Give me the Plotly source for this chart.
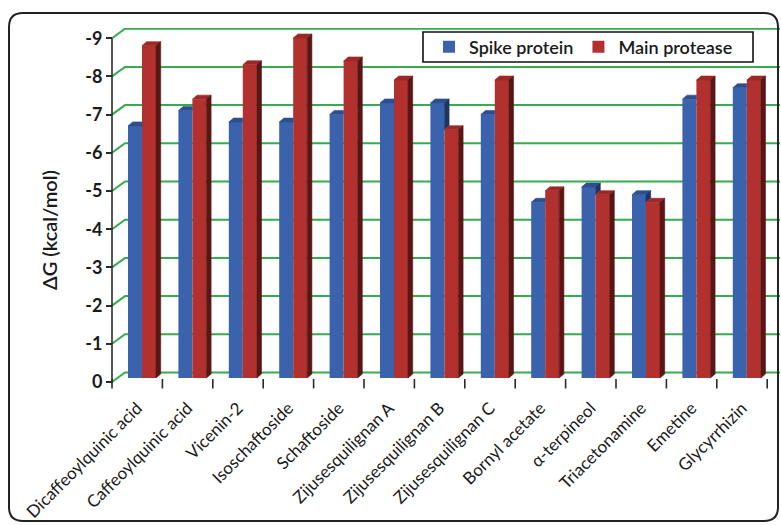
import plotly.graph_objects as go

# ---- data -------------------------------------------------------------
compounds = [
    "Dicaffeoylquinic acid", "Caffeoylquinic acid", "Vicenin-2", "Isoschaftoside",
    "Schaftoside", "Zijusesquilignan A", "Zijusesquilignan B", "Zijusesquilignan C",
    "Bornyl acetate", "α-terpineol", "Triacetonamine", "Emetine", "Glycyrrhizin",
]
spike_protein = [-6.6, -7.0, -6.7, -6.7, -6.9, -7.2, -7.2, -6.9, -4.6, -5.0, -4.8, -7.3, -7.6]
main_protease = [-8.7, -7.3, -8.2, -8.9, -8.3, -7.8, -6.5, -7.8, -4.9, -4.8, -4.6, -7.8, -7.8]
y_ticks = [0, -1, -2, -3, -4, -5, -6, -7, -8, -9]
y_ticktext = ["0", "-1", "-2", "-3", "-4", "-5", "-6", "-7", "-8", "-9"]

# ---- geometry (pixels) ------------------------------------------------
W, H = 781, 525
L, R, T, B = 104, 780, 28, 394          # plot area
X0_PX, CAT_PX = 112, 50.4               # front axis position, px per category
Y0_PX, UNIT_PX = 382, 38.2              # front zero line, px per kcal/mol

x_range = [(L - X0_PX) / CAT_PX - 0.5, (R - X0_PX) / CAT_PX - 0.5]
y_range = [(B - Y0_PX) / UNIT_PX, (T - Y0_PX) / UNIT_PX]   # reversed: 0 at bottom

WALL_DX, WALL_DY = 13 / CAT_PX, -9.5 / UNIT_PX   # back wall offset
FLOOR = -4 / UNIT_PX                              # bar bottom (mid depth)
BAR_W = 14 / CAT_PX
BLUE_OFF = -9.2 / CAT_PX
RED_OFF = BLUE_OFF + BAR_W
DX, DY = 4.7 / CAT_PX, -4 / UNIT_PX               # bar depth


def paper_x(px):
    return (px - L) / (R - L)


def paper_y(py):
    return (B - py) / (B - T)


FONT = "Lato"
TEXT = "#1a1a1a"
GREEN = "#36ab4f"
AXIS = "#2b2b2b"
BLUE, BLUE_TOP, BLUE_SIDE = "#3b63ad", "#2d4f8f", "#1e3464"
RED, RED_TOP, RED_SIDE = "#b2302e", "#9c2927", "#5a1614"

fig = go.Figure()

# ---- back wall gridlines with diagonal connectors ----------------------
gx, gy = [], []
for t in y_ticks:
    gx += [-0.5, -0.5 + WALL_DX, x_range[1], None]
    gy += [t, t + WALL_DY, t + WALL_DY, None]
fig.add_trace(go.Scatter(x=gx, y=gy, mode="lines", line=dict(color=GREEN, width=2),
                         hoverinfo="skip", showlegend=False))

# front value axis line
fig.add_trace(go.Scatter(x=[-0.5, -0.5], y=[0.03, y_ticks[-1]], mode="lines",
                         line=dict(color=AXIS, width=1.6), hoverinfo="skip", showlegend=False))

# category separator ticks below the floor
tx, ty = [], []
for k in range(len(compounds) + 1):
    tx += [k - 0.5, k - 0.5, None]
    ty += [-0.08, 0.17, None]
fig.add_trace(go.Scatter(x=tx, y=ty, mode="lines", line=dict(color=AXIS, width=1.6),
                         hoverinfo="skip", showlegend=False))

# ---- bars: front faces -------------------------------------------------
idx = list(range(len(compounds)))
fig.add_trace(go.Bar(x=idx, y=spike_protein, base=FLOOR, width=BAR_W, offset=BLUE_OFF,
                     marker=dict(color=BLUE, line=dict(width=0)), name="Spike protein",
                     xaxis="x2", yaxis="y2"))
fig.add_trace(go.Bar(x=idx, y=main_protease, base=FLOOR, width=BAR_W, offset=RED_OFF,
                     marker=dict(color=RED, line=dict(width=0)), name="Main protease",
                     xaxis="x2", yaxis="y2"))

# ---- bars: top and side faces -------------------------------------------
blue_top_x, blue_top_y = [], []
blue_side_x, blue_side_y = [], []
red_top_x, red_top_y = [], []
red_side_x, red_side_y = [], []
for k, (sv, mv) in enumerate(zip(spike_protein, main_protease)):
    bl = k + BLUE_OFF
    br = bl + BAR_W
    rl = br
    rr = rl + BAR_W
    bt = FLOOR + sv
    rt = FLOOR + mv
    if bt < rt:   # spike bar taller: its full top and upper part of side visible
        blue_top_x += [bl, br, br + DX, bl + DX, bl, None]
        blue_top_y += [bt, bt, bt + DY, bt + DY, bt, None]
        blue_side_x += [br, br + DX, br + DX, br, br, None]
        blue_side_y += [rt, rt + DY, bt + DY, bt, rt, None]
    else:         # right part hidden behind the neighbouring bar
        blue_top_x += [bl, br, br, bl + DX, bl, None]
        blue_top_y += [bt, bt, bt + DY, bt + DY, bt, None]
    red_top_x += [rl, rr, rr + DX, rl + DX, rl, None]
    red_top_y += [rt, rt, rt + DY, rt + DY, rt, None]
    red_side_x += [rr, rr + DX, rr + DX, rr, rr, None]
    red_side_y += [FLOOR, FLOOR + DY, rt + DY, rt, FLOOR, None]

for xs, ys, col in [(blue_top_x, blue_top_y, BLUE_TOP), (blue_side_x, blue_side_y, BLUE_SIDE),
                    (red_top_x, red_top_y, RED_TOP), (red_side_x, red_side_y, RED_SIDE)]:
    fig.add_trace(go.Scatter(x=xs, y=ys, mode="lines", fill="toself", fillcolor=col,
                             line=dict(color=col, width=0.6), hoverinfo="skip",
                             showlegend=False, xaxis="x2", yaxis="y2"))

# ---- outer rounded frame -------------------------------------------------
fx0, fy0, fx1, fy1, rad = 9, 13, 778, 521, 14
pts = [
    ("M", fx0 + rad, fy0), ("L", fx1 - rad, fy0), ("Q", fx1, fy0, fx1, fy0 + rad),
    ("L", fx1, fy1 - rad), ("Q", fx1, fy1, fx1 - rad, fy1),
    ("L", fx0 + rad, fy1), ("Q", fx0, fy1, fx0, fy1 - rad),
    ("L", fx0, fy0 + rad), ("Q", fx0, fy0, fx0 + rad, fy0),
]
path = ""
for p in pts:
    cmd, coords = p[0], p[1:]
    xy = []
    for i in range(0, len(coords), 2):
        xy.append(f"{paper_x(coords[i]):.5f},{paper_y(coords[i + 1]):.5f}")
    path += cmd + " ".join(xy) + " "
path += "Z"

# legend frame
lg_x0, lg_y0, lg_x1, lg_y1 = 423, 32, 753, 62

fig.update_layout(
    width=W, height=H, autosize=False,
    margin=dict(l=L, r=W - R, t=T, b=H - B, pad=0),
    paper_bgcolor="white", plot_bgcolor="white",
    font=dict(family=FONT, color=TEXT),
    barmode="overlay",
    xaxis=dict(range=x_range, tickvals=idx, ticktext=compounds, tickangle=-45,
               showgrid=False, zeroline=False, showline=False, ticks="",
               tickfont=dict(family=FONT, size=17, color=TEXT)),
    yaxis=dict(range=y_range, tickvals=y_ticks, ticktext=y_ticktext,
               anchor="free", position=paper_x(X0_PX),
               showgrid=False, zeroline=False, showline=False,
               ticks="outside", ticklen=6, tickwidth=1.6, tickcolor=AXIS,
               tickfont=dict(family=FONT, size=18, color=TEXT, weight="bold")),
    xaxis2=dict(range=x_range, overlaying="x", visible=False),
    yaxis2=dict(range=y_range, overlaying="y", visible=False),
    legend=dict(orientation="h", x=paper_x(lg_x0 + 6), xanchor="left",
                y=paper_y((lg_y0 + lg_y1) / 2), yanchor="middle",
                borderwidth=0, bgcolor="rgba(0,0,0,0)",
                font=dict(family=FONT, size=18, color=TEXT, weight=600), traceorder="normal"),
    shapes=[
        dict(type="path", xref="paper", yref="paper", path=path,
             line=dict(color="#222222", width=2), layer="above"),
        dict(type="rect", xref="paper", yref="paper",
             x0=paper_x(lg_x0), x1=paper_x(lg_x1), y0=paper_y(lg_y1), y1=paper_y(lg_y0),
             fillcolor="white", line=dict(color="#111111", width=1.6), layer="above"),
    ],
    annotations=[dict(text="ΔG (kcal/mol)", xref="paper", yref="paper",
                      x=paper_x(35), y=paper_y(230), textangle=-90, showarrow=False,
                      font=dict(family=FONT, size=20, color=TEXT, weight=600))],
)

fig.write_html("out.html")
